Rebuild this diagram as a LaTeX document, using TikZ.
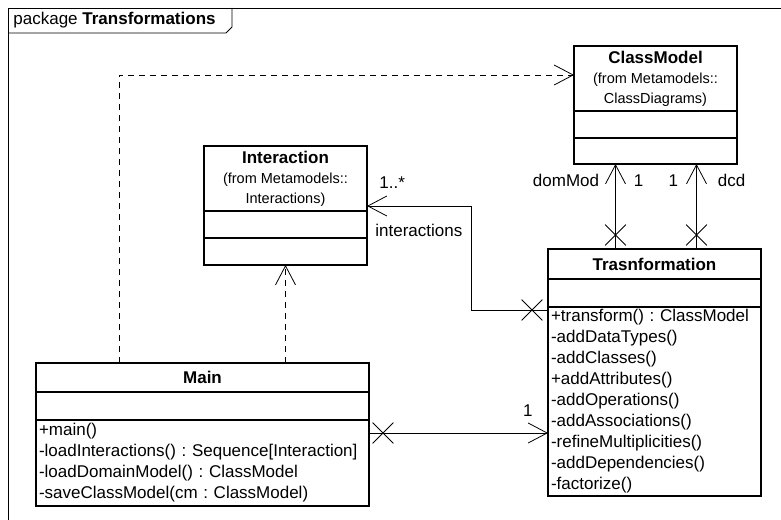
\documentclass[tikz,border=0pt]{standalone}
\usepackage{fontspec}
\setmainfont{Liberation Sans}
\usetikzlibrary{arrows.meta, positioning, shapes.misc}
\newcommand{\fromsize}{\fontsize{14.5}{17}\selectfont}
\frenchspacing
\tikzset{
  every picture/.style={font=\fontsize{17}{21}\selectfont, line width=0.8pt},
  cls/.style={draw, line width=1.2pt, inner sep=0pt, outer sep=0pt, minimum width=#1},
  cls/.default=163pt,
  head/.style={font=\fontsize{17}{20}\selectfont, align=center},
  ops/.style={inner xsep=3pt, inner ysep=0pt, text width=#1, align=left},
  assoc/.style={draw, -{Straight Barb[length=19pt, width=20pt]}},
  dep/.style={assoc, dash pattern=on 6pt off 5pt},
  xmark/.style={-, cross out, draw, solid, minimum size=20pt, inner sep=0pt, line width=0.8pt},
  lbl/.style={inner sep=0pt},
  frame/.style={draw, line width=0.9pt},
}

\begin{document}
\begin{tikzpicture}[x=1pt, y=-1pt]
  \useasboundingbox (0,0) rectangle (781,519);
  % package frame
  \draw[frame] (8,540) -- (8,8) -- (800,8);
  \draw[frame] (8,33) -- (226,33) -- (232,27) -- (232,8);
  \node[lbl, anchor=base west] (pkg) at (13,25) {package \textbf{Transformations}};

  % classes
  \node[cls, head, anchor=north west, minimum height=65] (cmHead) at (574,46)
    {\textbf{ClassModel}\\{\fromsize (from Metamodels::}\\{\fromsize ClassDiagrams)}};
  \node[cls, minimum height=27, below=0pt of cmHead] (cmAttr) {};
  \node[cls, minimum height=26, below=0pt of cmAttr] (cmOps) {};

  \node[cls, head, anchor=north west, minimum height=65] (intHead) at (204,146)
    {\textbf{Interaction}\\{\fromsize (from Metamodels::}\\{\fromsize Interactions)}};
  \node[cls, minimum height=27, below=0pt of intHead] (intAttr) {};
  \node[cls, minimum height=27, below=0pt of intAttr] (intOps) {};

  \node[cls=333pt, anchor=north west, minimum height=29] (mainHead) at (36,363) {\textbf{Main}};
  \node[cls=333pt, minimum height=28, below=0pt of mainHead] (mainAttr) {};
  \node[cls, ops=327pt, minimum height=86, below=0pt of mainAttr] (mainOps)
    {+main()\\-loadInteractions() : Sequence[Interaction]\\-loadDomainModel() : ClassModel\\-saveClassModel(cm : ClassModel)};

  \node[cls=213pt, anchor=north west, minimum height=30] (trHead) at (548,249) {\textbf{Trasnformation}};
  \node[cls=213pt, minimum height=28, below=0pt of trHead] (trAttr) {};
  \node[cls, ops=207pt, minimum height=189, below=0pt of trAttr] (trOps)
    {+transform() : ClassModel\\-addDataTypes()\\-addClasses()\\+addAttributes()\\-addOperations()\\-addAssociations()\\-refineMultiplicities()\\-addDependencies()\\-factorize()};

  % dependencies
  \coordinate (cmIn) at ([yshift=3.5pt]cmHead.west);
  \draw[dep] ([xshift=83pt]mainHead.north west) |- (cmIn);
  \draw[dep] (mainHead.north -| intOps.south) -- (intOps.south);

  % associations
  \coordinate (trIn) at ([yshift=-3pt]trOps.north west);
  \coordinate (intIn) at ([yshift=5pt]intHead.south east);
  \draw[assoc] (trIn) node[xmark, xshift=-16pt] {} -- ++(-77,0) |- (intIn)
    node[lbl, anchor=base west, xshift=12pt, yshift=18pt] {1..*}
    node[lbl, anchor=base west, xshift=8pt, yshift=-30pt] {interactions};
  \draw[assoc] ([xshift=-40pt]cmOps.south |- trHead.north) node[xmark, yshift=14pt] {}
    -- ([xshift=-40pt]cmOps.south)
    node[lbl, anchor=base east, xshift=-16pt, yshift=-22pt] {domMod}
    node[lbl, anchor=base west, xshift=18pt, yshift=-22pt] {1};
  \draw[assoc] ([xshift=41pt]cmOps.south |- trHead.north) node[xmark, yshift=14pt] {}
    -- ([xshift=41pt]cmOps.south)
    node[lbl, anchor=base east, xshift=-18pt, yshift=-22pt] {1}
    node[lbl, anchor=base west, xshift=21pt, yshift=-22pt] {dcd};
  \coordinate (mainOut) at ([yshift=-13pt]mainOps.north east);
  \draw[assoc] (mainOut) node[xmark, xshift=14pt] {} -- (mainOut -| trOps.west)
    node[lbl, anchor=base east, xshift=-15pt, yshift=17pt] {1};
\end{tikzpicture}
\end{document}
